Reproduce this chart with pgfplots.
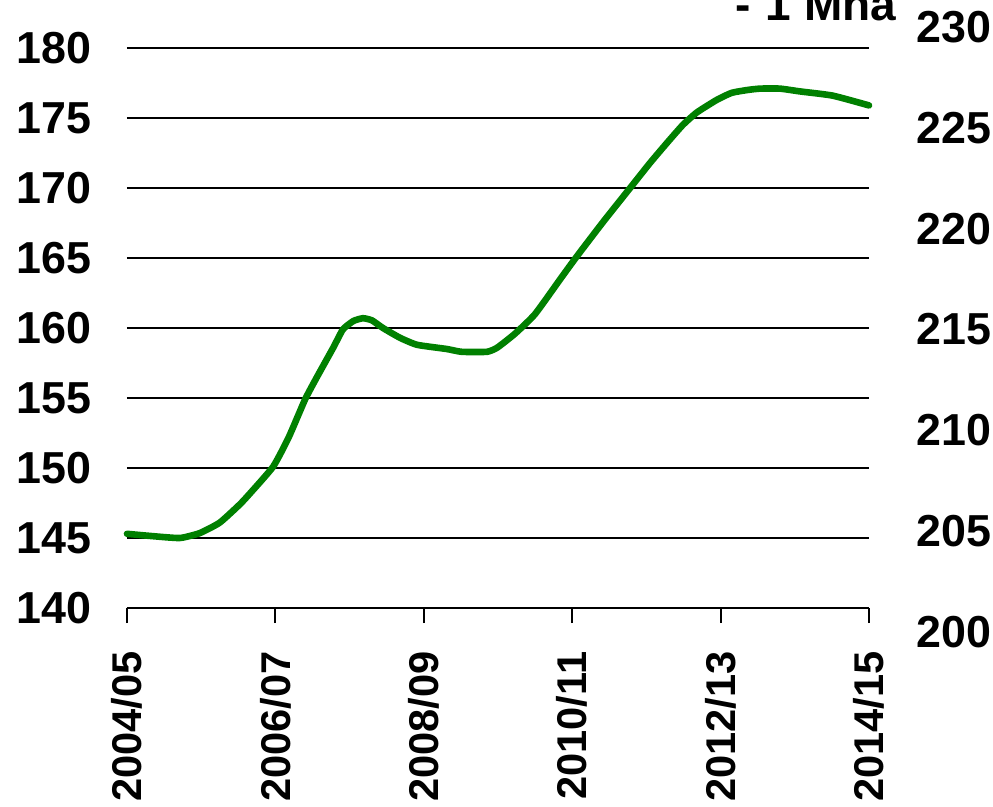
\documentclass[border=0pt]{standalone}
\usepackage{pgfplots}
\pgfplotsset{compat=1.18}
\usepackage{fontspec}
\setmainfont{Liberation Sans}
\definecolor{lgreen}{RGB}{0,128,0}
\begin{document}
\fontsize{11.2}{13}\selectfont\bfseries
\begin{tikzpicture}
\begin{axis}[
  at={(31.75pt,49.5pt)}, anchor=south west,
  width=185.5pt, height=140pt, scale only axis,
  xmin=0, xmax=10, ymin=140, ymax=180,
  axis x line*=bottom, axis y line*=left,
  y axis line style={draw=none},
  x axis line style={line width=0.5pt, black},
  xtick={0,2,4,6,8,10},
  xticklabels={2004/05,2006/07,2008/09,2010/11,2012/13,2014/15},
  xticklabel style={rotate=90, anchor=east, font=\fontsize{10.4}{12}\selectfont\bfseries},
  xticklabel shift=3.2pt,
  ytick={140,145,...,180},
  yticklabel style={font=\fontsize{11.2}{13}\selectfont\bfseries, xshift=-1.3pt},
  ymajorgrids, grid style={black, line width=0.5pt},
  xtick style={black, line width=0.5pt},
  ytick style={draw=none},
  tick align=outside, major tick length=3.75pt,
  /pgf/number format/assume math mode=true,
  clip=false,
]
\addplot[lgreen, line width=1.65pt, line join=round, line cap=round, smooth, tension=0.3] coordinates {
(0,145.3) (0.31,145.15) (0.71,145.0) (0.98,145.35) (1.25,146.1) (1.52,147.4) (1.66,148.2)
(1.97,150.1) (2.18,152.2) (2.40,154.9) (2.56,156.5) (2.78,158.6) (2.91,159.9) (3.05,160.5)
(3.18,160.7) (3.30,160.55) (3.45,160.0) (3.68,159.3) (3.91,158.8) (4.31,158.5) (4.51,158.3)
(4.85,158.3) (4.99,158.6) (5.23,159.6) (5.50,161.0) (5.84,163.5) (6.06,165.1) (6.42,167.6)
(6.78,170.0) (7.05,171.8) (7.29,173.3) (7.49,174.5) (7.68,175.4) (7.95,176.3) (8.15,176.8)
(8.36,177.0) (8.53,177.1) (8.80,177.1) (9.07,176.9) (9.51,176.6) (10,175.9)
};
\end{axis}
\begin{axis}[
  at={(31.75pt,43.5pt)}, anchor=south west,
  width=185.5pt, height=151.25pt, scale only axis,
  xmin=0, xmax=10, ymin=200, ymax=230,
  axis x line=none, axis y line*=right,
  y axis line style={draw=none},
  ytick={200,205,...,230},
  ytick style={draw=none},
  yticklabel style={font=\fontsize{11.2}{13}\selectfont\bfseries, xshift=8pt},
  /pgf/number format/assume math mode=true,
]
\addplot[draw=none] coordinates {(0,210)};
\end{axis}
\node[anchor=base east, inner sep=0pt, font=\fontsize{11.5}{13}\selectfont\bfseries] at (224.25pt,196.5pt) {-\,\,1 Mha};
\pgfresetboundingbox
\path[use as bounding box] (0,0) rectangle (248.25pt,201.5pt);
\end{tikzpicture}
\end{document}
